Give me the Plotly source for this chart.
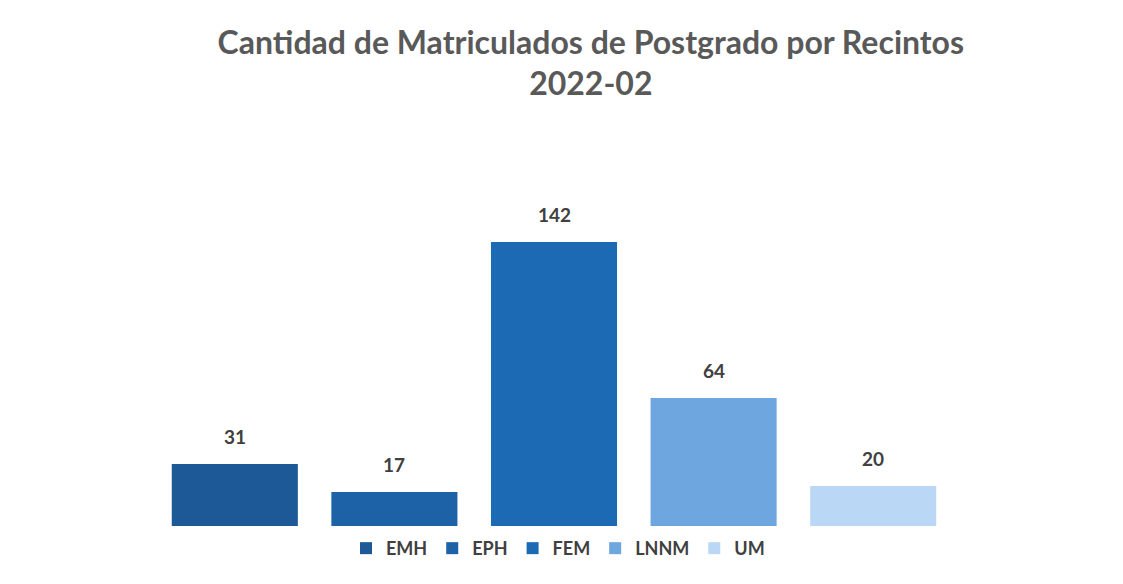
import plotly.graph_objects as go

categories = ["EMH", "EPH", "FEM", "LNNM", "UM"]
values = [31, 17, 142, 64, 20]
colors = ["#1c5996", "#1d61a6", "#1c6ab3", "#6ea6e0", "#bad8f5"]

fig = go.Figure()
for cat, val, col in zip(categories, values, colors):
    fig.add_trace(go.Bar(
        x=[cat], y=[val], name="<b>" + cat + "</b>",
        marker=dict(color=col, line=dict(width=0)),
        hoverinfo="skip",
    ))
    fig.add_annotation(
        x=cat, y=val, text="<b>" + str(val) + "</b>", showarrow=False,
        yanchor="bottom", yshift=14,
        font=dict(family="Lato, Open Sans, sans-serif", size=19, color="#404040"),
    )

fig.update_layout(
    width=1123, height=584,
    paper_bgcolor="white", plot_bgcolor="white",
    barmode="relative", bargap=0.21,
    margin=dict(l=147, r=178, t=122, b=66),
    title=dict(
        text="<b>Cantidad de Matriculados de Postgrado por Recintos<br>2022-02</b>",
        x=0.519, xanchor="center", y=0.922, yanchor="top",
        font=dict(family="Lato, Open Sans, sans-serif", size=32, color="#595959"),
    ),
    xaxis=dict(visible=False, categoryorder="array", categoryarray=categories),
    yaxis=dict(visible=False, range=[0, 198]),
    legend=dict(
        orientation="h", x=0.505, xanchor="center", y=-0.01, yanchor="top",
        font=dict(family="Lato, Open Sans, sans-serif", size=18, color="#404040"),
        traceorder="normal",
    ),
    showlegend=True,
)

fig.write_html("out.html")
